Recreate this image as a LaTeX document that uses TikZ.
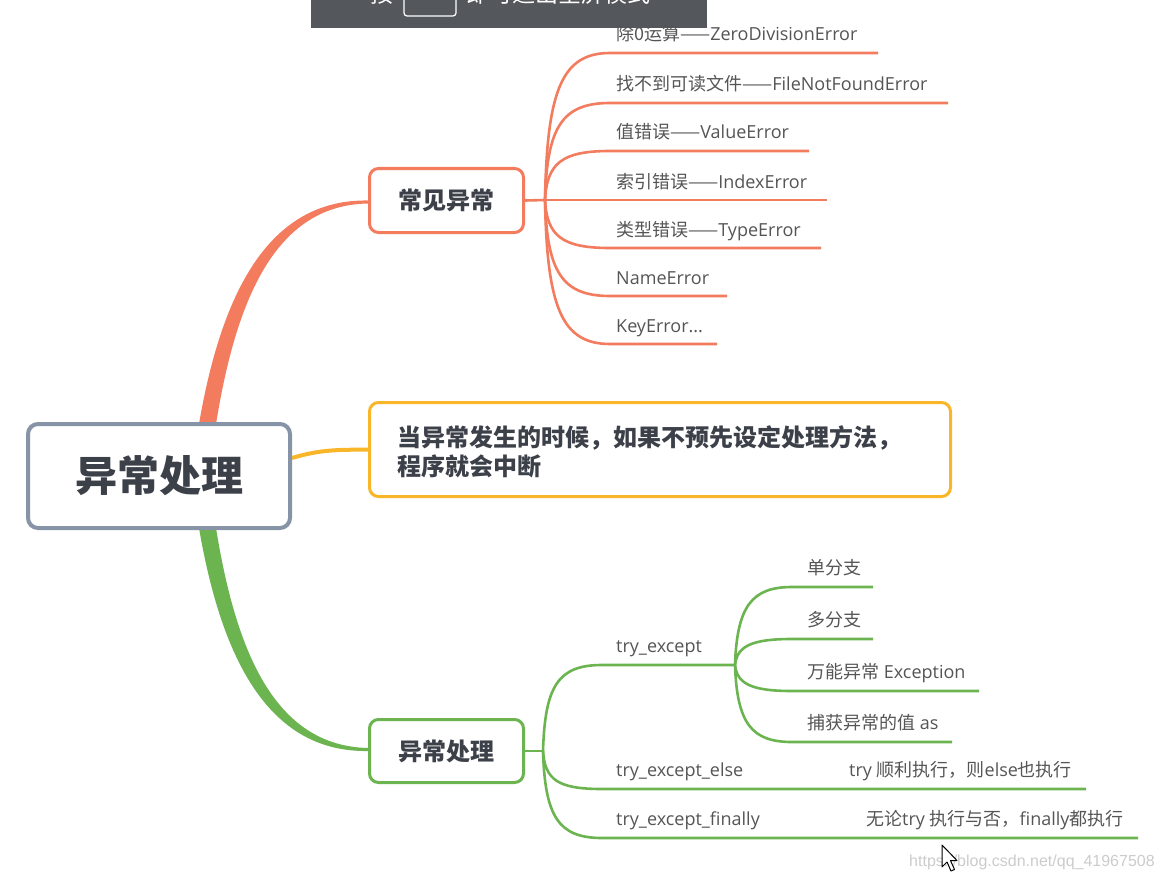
\documentclass[tikz,border=0pt]{standalone}
\usepackage{fontspec}
\setmainfont{Open Sans}
\newfontfamily\cjk{Noto Sans CJK SC}
\newfontfamily\wmfont{Liberation Sans}
\usetikzlibrary{backgrounds}
\definecolor{orangec}{RGB}{244,124,94}
\definecolor{greenc}{RGB}{108,180,80}
\definecolor{yellowc}{RGB}{248,182,40}
\definecolor{rootc}{RGB}{135,147,166}
\definecolor{titlec}{RGB}{60,64,72}
\definecolor{lblc}{RGB}{85,85,85}
\definecolor{barc}{RGB}{84,87,92}
\tikzset{
  rootbox/.style={draw=rootc, line width=4pt, rounded corners=10pt, fill=white,
    minimum width=262pt, minimum height=104pt, inner sep=0pt, text=titlec,
    font=\cjk\bfseries\fontsize{42}{50}\selectfont},
  subbox/.style={line width=3pt, rounded corners=9pt, fill=white, inner sep=0pt,
    text=titlec, font=\cjk\bfseries\fontsize{24}{29}\selectfont},
  lbl/.style={anchor=base west, inner sep=0pt, text=lblc, font=\fontsize{18}{22}\selectfont},
  ochild/.style={draw=orangec, line width=2.6pt},
  gchild/.style={draw=greenc, line width=2.6pt},
}
\begin{document}
\begin{tikzpicture}[x=1pt,y=-1pt]
\useasboundingbox (0,0) rectangle (1162,880);

% top bar (cut off)
\begin{scope}
\clip (311,0) rectangle (707,28);
\fill[barc] (311,-40) rectangle (707,28);
\node[anchor=base west, inner sep=0pt, text=white, font=\cjk\fontsize{23}{28}\selectfont] (barA) at (370,2.5) {按};
\draw[white, line width=1.2pt, rounded corners=3pt] (404,-30) rectangle (456,16);
\node[anchor=base west, inner sep=0pt, text=white, font=\cjk\fontsize{23}{28}\selectfont] (barB) at (466,2.5) {即可退出全屏模式};
\end{scope}

% main nodes
\node[rootbox] (root) at (159,476) {异常处理};
\node[subbox, draw=orangec, minimum width=154pt, minimum height=64pt] (obox) at (446.5,200.5) {常见异常};
\node[subbox, draw=yellowc, minimum width=581pt, minimum height=94pt] (ybox) at (660,449.5) {};
\node[anchor=west, align=left, inner sep=0pt, text=titlec, font=\cjk\bfseries\fontsize{24}{29}\selectfont] (ytext) at (397,452)
  {当异常发生的时候，如果不预先设定处理方法，\\程序就会中断};
\node[subbox, draw=greenc, minimum width=154pt, minimum height=63pt] (gbox) at (446.5,751) {异常处理};

% main branches
\begin{scope}[on background layer]
\fill[white] (0,0) rectangle (1162,880);
\fill[orangec] (199,424) .. controls (222,290) and (270,199) .. (obox.west) -- ++(0,3)
   .. controls (275,205) and (236,300) .. (216,424) -- cycle;
\fill[greenc] (199,528) .. controls (222,662) and (270,752.5) .. (gbox.west) -- ++(0,-3)
   .. controls (275,746) and (236,652) .. (216,528) -- cycle;
\draw[yellowc, line width=4pt] (root.east |- 0,458) .. controls (322,449) and (340,450) .. (ybox.west);
\end{scope}

% orange children
\coordinate (oF) at (545,200);
\draw[ochild] (obox.east) -- (oF);
\coordinate (o1) at (878,53);
\coordinate (o2) at (948,103);
\coordinate (o3) at (809,151);
\coordinate (o4) at (827,200);
\coordinate (o5) at (821,248);
\coordinate (o6) at (727,296);
\coordinate (o7) at (717,344);
\draw[ochild] (oF) .. controls (547,90) and (562,53) .. (610,53) -- (o1);
\draw[ochild] (oF) .. controls (547,127) and (562,103) .. (610,103) -- (o2);
\draw[ochild] (oF) .. controls (547,163) and (562,151) .. (610,151) -- (o3);
\draw[ochild] (oF) -- (o4);
\draw[ochild] (oF) .. controls (547,236) and (562,248) .. (610,248) -- (o5);
\draw[ochild] (oF) .. controls (547,272) and (562,296) .. (610,296) -- (o6);
\draw[ochild] (oF) .. controls (547,308) and (562,344) .. (610,344) -- (o7);
\node[lbl] (t1) at (616,41) {{\cjk 除0运算——}ZeroDivisionError};
\node[lbl] (t2) at (616,91) {{\cjk 找不到可读文件——}FileNotFoundError};
\node[lbl] (t3) at (616,139) {{\cjk 值错误——}ValueError};
\node[lbl] (t4) at (616,188) {{\cjk 索引错误——}IndexError};
\node[lbl] (t5) at (616,236) {{\cjk 类型错误——}TypeError};
\node[lbl] (t6) at (616,284) {NameError};
\node[lbl] (t7) at (616,332) {KeyError...};

% green children
\coordinate (gF) at (543,751);
\draw[gchild] (gbox.east) -- (gF);
\coordinate (g1) at (735,665);
\coordinate (g2) at (1086,789);
\coordinate (g3) at (1138,838);
\draw[gchild] (gF) .. controls (545,686) and (558,665) .. (602,665) -- (g1);
\draw[gchild] (gF) .. controls (545,780) and (558,789) .. (602,789) -- (g2);
\draw[gchild] (gF) .. controls (545,816) and (558,838) .. (602,838) -- (g3);
\node[lbl] (u1) at (616,652) {try\_except};
\node[lbl] (u2) at (616,776) {try\_except\_else};
\node[lbl] (u3) at (616,825) {try\_except\_finally};
\node[lbl] (v2) at (849,776) {try {\cjk 顺利执行，则}else{\cjk 也执行}};
\node[lbl] (v3) at (866,825) {{\cjk 无论}try {\cjk 执行与否，}finally{\cjk 都执行}};

% try_except sub children
\coordinate (s1) at (873,587);
\coordinate (s2) at (873,639);
\coordinate (s3) at (979,691);
\coordinate (s4) at (952,742);
\draw[gchild] (g1) .. controls (737,606) and (752,587) .. (792,587) -- (s1);
\draw[gchild] (g1) .. controls (737,646) and (752,639) .. (792,639) -- (s2);
\draw[gchild] (g1) .. controls (737,684) and (752,691) .. (792,691) -- (s3);
\draw[gchild] (g1) .. controls (737,724) and (752,742) .. (792,742) -- (s4);
\node[lbl] (w1) at (807,574) {\cjk 单分支};
\node[lbl] (w2) at (807,626) {\cjk 多分支};
\node[lbl] (w3) at (807,678) {{\cjk 万能异常} Exception};
\node[lbl] (w4) at (807,729) {{\cjk 捕获异常的值} as};

% watermark and cursor
\node[anchor=west, inner sep=0pt, text=black!20, font=\wmfont\fontsize{16}{19}\selectfont] (wm) at (909,862) {https://blog.csdn.net/qq\_41967508};
\filldraw[fill=white, draw=black, line width=1pt, line join=round] (942,845) -- (942,867) -- (947,862) -- (951,871) -- (954.5,869.5) -- (950.5,860.5) -- (957,860.5) -- cycle;
\end{tikzpicture}
\end{document}
